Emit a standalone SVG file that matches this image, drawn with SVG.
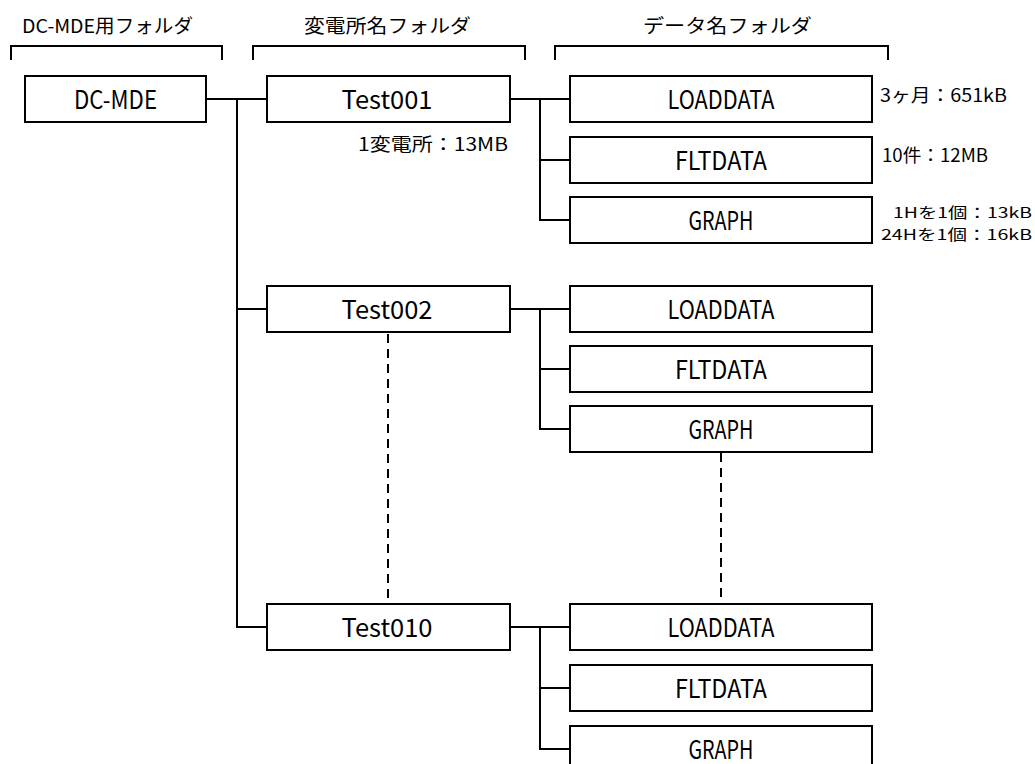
<svg xmlns="http://www.w3.org/2000/svg" width="1035" height="764" viewBox="0 0 1035 764">
<style>
.box{fill:#fff;stroke:#000;stroke-width:2}
.ln{fill:none;stroke:#000;stroke-width:2}
.dash{fill:none;stroke:#000;stroke-width:2;stroke-dasharray:9 6}
.lbl{font-family:"Noto Sans CJK JP","Noto Sans",sans-serif;font-size:25px;fill:#000;text-anchor:middle}
.ttl{font-family:"Noto Sans CJK JP","Noto Sans",sans-serif;font-size:19px;fill:#000}
.ann{font-family:"Noto Sans CJK JP","Noto Sans",sans-serif;font-size:18px;fill:#000}
.ann2{font-family:"Noto Sans CJK JP","Noto Sans",sans-serif;font-size:14.5px;fill:#000;text-anchor:end}
</style>
<rect width="1035" height="764" fill="#fff"/>
<g id="headers">
<text class="ttl" x="22" y="33" textLength="171" lengthAdjust="spacingAndGlyphs">DC-MDE用フォルダ</text>
<text class="ttl" x="304" y="33" textLength="167" lengthAdjust="spacingAndGlyphs">変電所名フォルダ</text>
<text class="ttl" x="643" y="33" textLength="169" lengthAdjust="spacingAndGlyphs">データ名フォルダ</text>
<polyline class="ln" points="11,60 11,46 222,46 222,60"/>
<polyline class="ln" points="253,60 253,46 525,46 525,60"/>
<polyline class="ln" points="555,60 555,46 888,46 888,60"/>
</g>
<g id="connectors">
<polyline class="ln" points="206,99 267,99"/>
<polyline class="ln" points="237,99 237,627 267,627"/>
<polyline class="ln" points="237,309 267,309"/>
<polyline class="ln" points="510,99 570,99"/>
<polyline class="ln" points="540,99 540,220 570,220"/>
<polyline class="ln" points="540,160 570,160"/>
<polyline class="ln" points="510,309 570,309"/>
<polyline class="ln" points="540,309 540,429 570,429"/>
<polyline class="ln" points="540,369 570,369"/>
<polyline class="ln" points="510,627 570,627"/>
<polyline class="ln" points="540,627 540,749 570,749"/>
<polyline class="ln" points="540,688 570,688"/>
<line class="dash" x1="388" y1="334" x2="388" y2="604"/>
<line class="dash" x1="721" y1="453" x2="721" y2="604"/>
</g>
<g id="n-dcmde"><rect class="box" x="25" y="76" width="181" height="46"/><text class="lbl" x="115.5" y="109" textLength="83" lengthAdjust="spacingAndGlyphs">DC-MDE</text></g>
<g id="n-test001"><rect class="box" x="267" y="76" width="243" height="46"/><text class="lbl" x="387" y="109" textLength="91" lengthAdjust="spacingAndGlyphs">Test001</text>
<text class="ann" x="508" y="151" text-anchor="end" textLength="150" lengthAdjust="spacingAndGlyphs">1変電所：13MB</text></g>
<g id="n-load1"><rect class="box" x="570" y="76" width="302" height="46"/><text class="lbl" x="721" y="109" textLength="107" lengthAdjust="spacingAndGlyphs">LOADDATA</text>
<text class="ann" x="880" y="102" textLength="127" lengthAdjust="spacingAndGlyphs">3ヶ月：651kB</text></g>
<g id="n-flt1"><rect class="box" x="570" y="137" width="302" height="46"/><text class="lbl" x="721" y="170" textLength="92" lengthAdjust="spacingAndGlyphs">FLTDATA</text>
<text class="ann" x="882" y="162" textLength="106" lengthAdjust="spacingAndGlyphs">10件：12MB</text></g>
<g id="n-graph1"><rect class="box" x="570" y="197" width="302" height="46"/><text class="lbl" x="721" y="230" textLength="65" lengthAdjust="spacingAndGlyphs">GRAPH</text>
<text class="ann2" x="1032" y="218" textLength="139" lengthAdjust="spacingAndGlyphs">1Hを1個：13kB</text>
<text class="ann2" x="1032" y="240" textLength="151" lengthAdjust="spacingAndGlyphs">24Hを1個：16kB</text></g>
<g id="n-test002"><rect class="box" x="267" y="286" width="243" height="46"/><text class="lbl" x="387" y="319" textLength="91" lengthAdjust="spacingAndGlyphs">Test002</text></g>
<g id="n-load2"><rect class="box" x="570" y="286" width="302" height="46"/><text class="lbl" x="721" y="319" textLength="107" lengthAdjust="spacingAndGlyphs">LOADDATA</text></g>
<g id="n-flt2"><rect class="box" x="570" y="346" width="302" height="46"/><text class="lbl" x="721" y="379" textLength="92" lengthAdjust="spacingAndGlyphs">FLTDATA</text></g>
<g id="n-graph2"><rect class="box" x="570" y="406" width="302" height="46"/><text class="lbl" x="721" y="439" textLength="65" lengthAdjust="spacingAndGlyphs">GRAPH</text></g>
<g id="n-test010"><rect class="box" x="267" y="604" width="243" height="46"/><text class="lbl" x="387" y="637" textLength="91" lengthAdjust="spacingAndGlyphs">Test010</text></g>
<g id="n-load3"><rect class="box" x="570" y="604" width="302" height="46"/><text class="lbl" x="721" y="637" textLength="107" lengthAdjust="spacingAndGlyphs">LOADDATA</text></g>
<g id="n-flt3"><rect class="box" x="570" y="665" width="302" height="46"/><text class="lbl" x="721" y="698" textLength="92" lengthAdjust="spacingAndGlyphs">FLTDATA</text></g>
<g id="n-graph3"><rect class="box" x="570" y="726" width="302" height="46"/><text class="lbl" x="721" y="759" textLength="65" lengthAdjust="spacingAndGlyphs">GRAPH</text></g>
</svg>
